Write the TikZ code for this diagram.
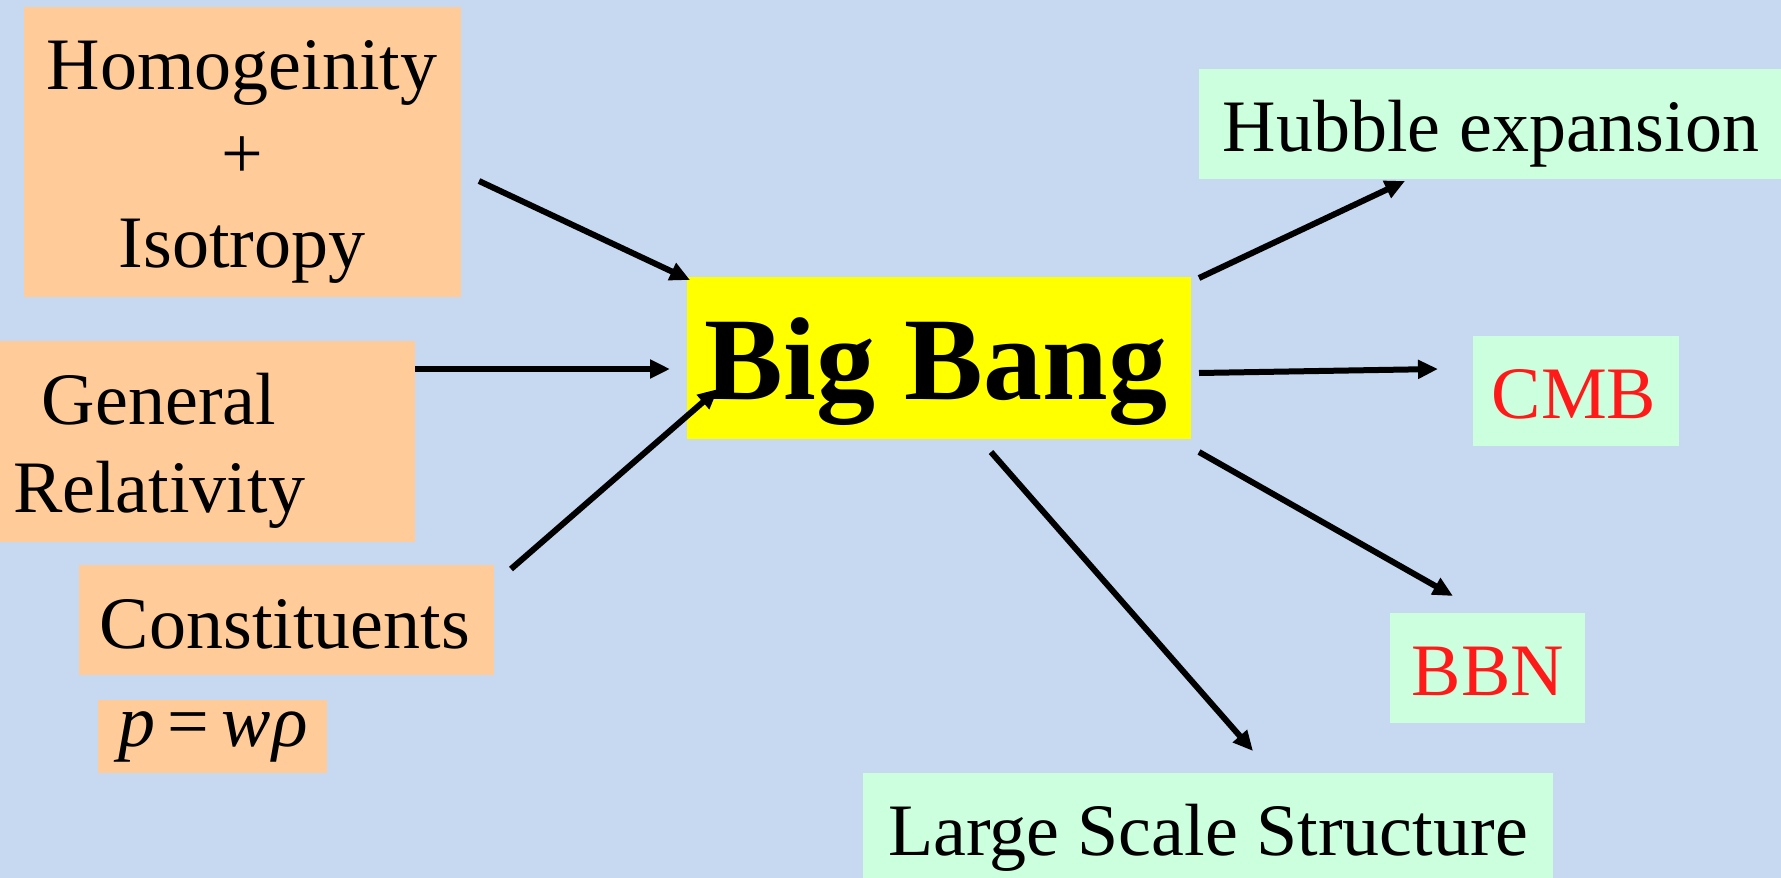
\documentclass[tikz,border=0pt]{standalone}
\usepackage{fontspec}
\setmainfont{Liberation Serif}
\usetikzlibrary{arrows.meta}
\definecolor{bgblue}{RGB}{198,217,240}
\definecolor{boxorange}{RGB}{255,204,153}
\definecolor{boxgreen}{RGB}{204,255,222}
\definecolor{boxyellow}{RGB}{255,255,0}
\definecolor{txtred}{RGB}{255,26,26}
\tikzset{
  obox/.style={rectangle, fill=boxorange, draw=none, inner sep=0pt},
  gbox/.style={rectangle, fill=boxgreen, draw=none, inner sep=0pt},
  ybox/.style={rectangle, fill=boxyellow, draw=none, inner sep=0pt},
  txt/.style={anchor=base, inner sep=0pt, font=\fontsize{74pt}{89pt}\selectfont},
  bigtxt/.style={anchor=base, inner sep=0pt, font=\fontsize{118pt}{130pt}\selectfont\bfseries},
  conn/.style={line width=6pt, -{Triangle[length=20pt,width=18pt]}}
}
\begin{document}
\begin{tikzpicture}[x=1pt,y=-1pt]
\fill[bgblue] (0,0) rectangle (1781,878);
\useasboundingbox (0,0) rectangle (1781,878);
% boxes
\node[obox, minimum width=437pt, minimum height=290pt] (homog) at (242.5,152) {};
\node[obox, minimum width=415pt, minimum height=201pt] (gr) at (207.5,441.5) {};
\node[obox, minimum width=415pt, minimum height=110pt] (const) at (286.5,620) {};
\node[obox, minimum width=229pt, minimum height=73pt] (pwr) at (212.5,736.5) {};
\node[ybox, minimum width=504pt, minimum height=162pt] (bb) at (939,358) {};
\node[gbox, minimum width=582pt, minimum height=110pt] (hubble) at (1490,124) {};
\node[gbox, minimum width=206pt, minimum height=110pt] (cmb) at (1576,391) {};
\node[gbox, minimum width=195pt, minimum height=110pt] (bbn) at (1487.5,668) {};
\node[gbox, minimum width=690pt, minimum height=105pt] (lss) at (1208,825.5) {};
% texts
\node[txt] (homogA) at (242,89) {Homogeinity};
\node[txt] (homogB) at (242,178) {+};
\node[txt] (homogC) at (242,267) {Isotropy};
\node[txt] (grA) at (159,424) {General};
\node[txt] (grB) at (159,512) {Relativity};
\node[txt] (constT) at (285,648) {Constituents};
\node[txt] (pwrT) at (213,746) {\textit{p}\,=\,\textit{w}\kern1pt\textit{ρ}};
\node[bigtxt] (bbT) at (936,399) {Big Bang};
\node[txt] (hubbleT) at (1491,151) {Hubble expansion};
\node[txt, text=txtred] (cmbT) at (1574,418) {CMB};
\node[txt, text=txtred] (bbnT) at (1488,695) {BBN};
\node[txt] (lssT) at (1208,855) {Large Scale Structure};
% connector end points
\coordinate (a1s) at (479,181); \coordinate (a1e) at (690,280);
\coordinate (a2s) at (415,369); \coordinate (a2e) at (670,369);
\coordinate (a3s) at (511,569); \coordinate (a3e) at (718,389);
\coordinate (a4s) at (1199,278); \coordinate (a4e) at (1405,181);
\coordinate (a5s) at (1199,373); \coordinate (a5e) at (1438,369);
\coordinate (a6s) at (1199,452); \coordinate (a6e) at (1453,596);
\coordinate (a7s) at (991,452); \coordinate (a7e) at (1253,751);
% connectors
\draw[conn] (a1s) -- (a1e);
\draw[conn] (a2s) -- (a2e);
\draw[conn] (a3s) -- (a3e);
\draw[conn] (a4s) -- (a4e);
\draw[conn] (a5s) -- (a5e);
\draw[conn] (a6s) -- (a6e);
\draw[conn] (a7s) -- (a7e);
\end{tikzpicture}
\end{document}
